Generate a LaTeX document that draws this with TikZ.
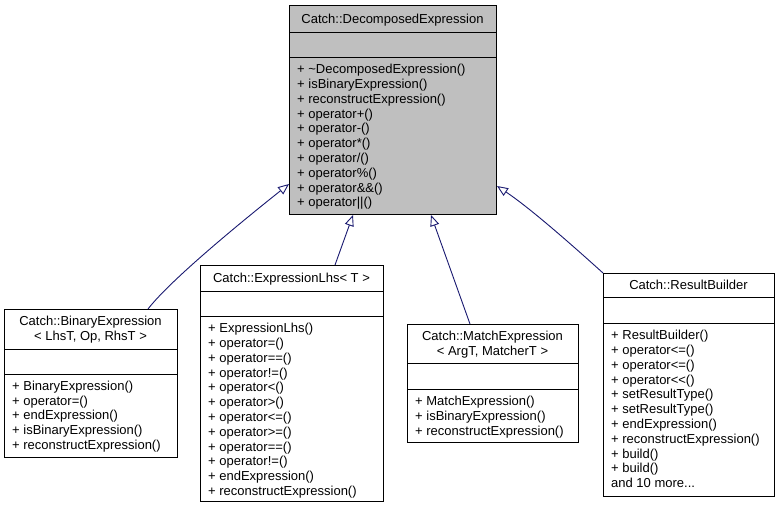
\documentclass[tikz,border=0pt]{standalone}
\usepackage{fontspec}
\setmainfont{Liberation Sans}
\usetikzlibrary{arrows.meta,calc}
\definecolor{edgeblue}{RGB}{25,25,112}
\definecolor{boxgray}{RGB}{191,191,191}
\tikzset{
  x=1pt, y=-1pt,
  every node/.style={font=\fontsize{13}{15}\selectfont},
  umlbox/.style={draw=black, line width=1pt, inner sep=0pt, anchor=north west, fill=white},
  divider/.style={draw=black, line width=1pt},
  mtext/.style={inner sep=0pt, anchor=base west},
  ttext/.style={inner sep=0pt, anchor=base},
  inh/.style={draw=edgeblue, line width=0.9pt, -{Triangle[length=11pt, width=9pt, fill=white]}}
}
\newcommand\methodlist[4]{%
  \foreach \t [count=\i] in {#4} {\node[mtext] (#1\i) at (#2, {#3+(\i-1)*14.8}) {\t};}}
\newcommand\threedots{.\kern0pt.\kern0pt.}
\begin{document}
\begin{tikzpicture}
\useasboundingbox (0,0) rectangle (780,509);

% ---- Catch::DecomposedExpression
\node[umlbox, fill=boxgray, minimum width=207pt, minimum height=209pt] (main) at (289,5) {};
\draw[divider] (289,32) -- (496,32);
\draw[divider] (289,57) -- (496,57);
\node[ttext] (maint) at (392.5,23) {Catch::DecomposedExpression};
\methodlist{mm}{297}{73.7}{+ \textasciitilde DecomposedExpression(), + isBinaryExpression(), + reconstructExpression(), + operator+(), + operator-(), + operator*(), + operator/(), + operator\%(), + operator\&\&(), + operator||()}

% ---- Catch::BinaryExpression
\node[umlbox, minimum width=173pt, minimum height=148pt] (bin) at (4,309) {};
\draw[divider] (4,349) -- (177,349);
\draw[divider] (4,374) -- (177,374);
\node[ttext] (bint1) at (90.5,325.7) {Catch::BinaryExpression};
\node[ttext] (bint2) at (90.5,340.3) {< LhsT, Op, RhsT >};
\methodlist{bm}{12}{390.2}{+ BinaryExpression(), + operator=(), + endExpression(), + isBinaryExpression(), + reconstructExpression()}

% ---- Catch::ExpressionLhs< T >
\node[umlbox, minimum width=183pt, minimum height=236pt] (lhs) at (200,265) {};
\draw[divider] (200,291) -- (383,291);
\draw[divider] (200,316) -- (383,316);
\node[ttext] (lhst) at (291.5,282.7) {Catch::ExpressionLhs< T >};
\methodlist{lm}{208}{332.7}{+ ExpressionLhs(), + operator=(), + operator==(), + operator!=(), + operator<(), + operator>(), + operator<=(), + operator>=(), + operator==(), + operator!=(), + endExpression(), + reconstructExpression()}

% ---- Catch::MatchExpression
\node[umlbox, minimum width=171pt, minimum height=118pt] (match) at (407,324) {};
\draw[divider] (407,363) -- (578,363);
\draw[divider] (407,389) -- (578,389);
\node[ttext] (matcht1) at (492.5,340.7) {Catch::MatchExpression};
\node[ttext] (matcht2) at (492.5,355.5) {< ArgT, MatcherT >};
\methodlist{xm}{415}{405.7}{+ MatchExpression(), + isBinaryExpression(), + reconstructExpression()}

% ---- Catch::ResultBuilder
\node[umlbox, minimum width=171pt, minimum height=223pt] (rb) at (603,273) {};
\draw[divider] (603,297) -- (774,297);
\draw[divider] (603,323) -- (774,323);
\node[ttext] (rbt) at (688.5,289.7) {Catch::ResultBuilder};
\methodlist{rm}{611}{339.7}{+ ResultBuilder(), + operator<=(), + operator<=(), + operator<{}<(), + setResultType(), + setResultType(), + endExpression(), + reconstructExpression(), + build(), + build(), and 10 more\threedots}

% ---- inheritance connectors
\draw[inh] ($(bin.north west)+(144,0)$) .. controls (172,278) and (250,215) .. ($(main.south west)+(0,-31)$);
\draw[inh] ($(lhs.north west)+(135,0)$) -- ($(main.south west)+(64,0)$);
\draw[inh] ($(match.north west)+(63,0)$) -- ($(main.south west)+(142,0)$);
\draw[inh] (rb.north west) .. controls (572,245) and (530,208) .. ($(main.south east)+(0,-29)$);
\end{tikzpicture}
\end{document}
